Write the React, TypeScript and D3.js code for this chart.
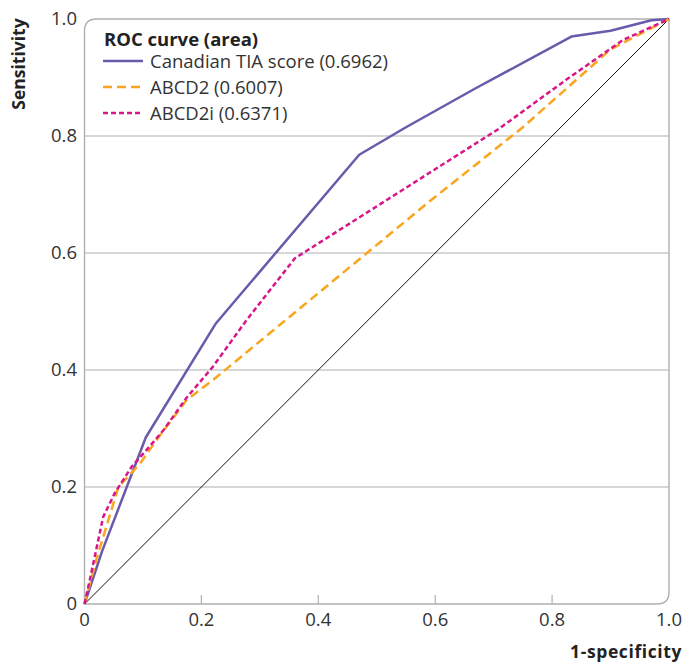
import React from "react";
import * as d3 from "d3";

const xTicks = [0, 0.2, 0.4, 0.6, 0.8, 1.0];
const yTicks = [0, 0.2, 0.4, 0.6, 0.8, 1.0];
const tickLabels = ["0", "0.2", "0.4", "0.6", "0.8", "1.0"];

const canadianFpr = [0, 0.03, 0.105, 0.225, 0.47, 0.55, 0.67, 0.833, 0.9, 0.97, 1];
const canadianTpr = [0, 0.09, 0.285, 0.48, 0.768, 0.815, 0.882, 0.97, 0.98, 0.998, 1];

const abcd2Fpr = [0, 0.02, 0.058, 0.095, 0.123, 0.175, 0.22, 0.59, 0.75, 0.9, 1];
const abcd2Tpr = [0, 0.075, 0.2, 0.24, 0.28, 0.349, 0.383, 0.688, 0.815, 0.948, 1];

const abcd2iFpr = [0, 0.009, 0.032, 0.052, 0.081, 0.106, 0.135, 0.175, 0.22, 0.277, 0.36, 0.71, 0.824, 0.921, 1];
const abcd2iTpr = [0, 0.041, 0.149, 0.19, 0.235, 0.263, 0.297, 0.353, 0.406, 0.485, 0.591, 0.813, 0.896, 0.964, 1];

const seriesNames = ["Canadian TIA score (0.6962)", "ABCD2 (0.6007)", "ABCD2i (0.6371)"];
const seriesColors = ["#6a5aab", "#f9a51e", "#d8168a"];
const seriesDash = ["none", "9 5", "5 3"];

export default function App() {
  const W = 685, H = 663;
  const x0 = 84.5, x1 = 669, y0 = 604, y1 = 19;
  const x = d3.scaleLinear().domain([0, 1]).range([x0, x1]);
  const y = d3.scaleLinear().domain([0, 1]).range([y0, y1]);
  const line = d3.line<[number, number]>().x(d => x(d[0])).y(d => y(d[1]));
  const series = [
    canadianFpr.map((v, i) => [v, canadianTpr[i]] as [number, number]),
    abcd2Fpr.map((v, i) => [v, abcd2Tpr[i]] as [number, number]),
    abcd2iFpr.map((v, i) => [v, abcd2iTpr[i]] as [number, number]),
  ];
  const r = 12;
  const grey = "#b0b0b0";
  const font = "'Open Sans', sans-serif";
  const frame = `M${x0},${y0} L${x0},${y1 + r} Q${x0},${y1} ${x0 + r},${y1} L${x1},${y1} L${x1},${y0 - r} Q${x1},${y0} ${x1 - r},${y0} Z`;
  return (
    <svg width={W} height={H} style={{ position: "absolute", left: 0, top: 0 }} fontFamily={font}>
      {yTicks.filter(t => t > 0 && t < 1).map(t => (
        <line key={"g" + t} x1={x0} x2={x1} y1={y(t)} y2={y(t)} stroke={grey} strokeWidth={1.2} />
      ))}
      {xTicks.filter(t => t > 0 && t < 1).map(t => (
        <line key={"t" + t} x1={x(t)} x2={x(t)} y1={y0} y2={y0 - 9} stroke={grey} strokeWidth={1.2} />
      ))}
      <path d={frame} fill="none" stroke={grey} strokeWidth={1.4} />
      <line x1={x(0)} y1={y(0)} x2={x(1)} y2={y(1)} stroke="#111" strokeWidth={1} />
      {series.map((s, i) => (
        <path key={i} d={line(s) || ""} fill="none" stroke={seriesColors[i]} strokeWidth={2.5}
          strokeDasharray={seriesDash[i]} strokeLinejoin="round" />
      ))}
      {yTicks.map((t, i) => (
        <text key={"yl" + t} x={77} y={y(t)} dy="0.35em" textAnchor="end" fontSize={18.5} fill="#333">{tickLabels[i]}</text>
      ))}
      {xTicks.map((t, i) => (
        <text key={"xl" + t} x={x(t)} y={626} textAnchor="middle" fontSize={18.5} fill="#333">{tickLabels[i]}</text>
      ))}
      <text transform="translate(25,64) rotate(-90)" textAnchor="middle" fontSize={17.5} fontWeight="bold" fill="#222">Sensitivity</text>
      <text x={682} y={658} textAnchor="end" fontSize={17.5} fontWeight="bold" fill="#222" letterSpacing={0.6}>1-specificity</text>
      <text x={104} y={46} fontSize={18.5} fontWeight="bold" fill="#222">ROC curve (area)</text>
      {seriesNames.map((n, i) => (
        <g key={n}>
          <line x1={103} x2={143} y1={61 + i * 26} y2={61 + i * 26} stroke={seriesColors[i]} strokeWidth={2.5} strokeDasharray={seriesDash[i]} />
          <text x={150} y={68 + i * 26} fontSize={18.5} fill="#333">{n}</text>
        </g>
      ))}
    </svg>
  );
}
